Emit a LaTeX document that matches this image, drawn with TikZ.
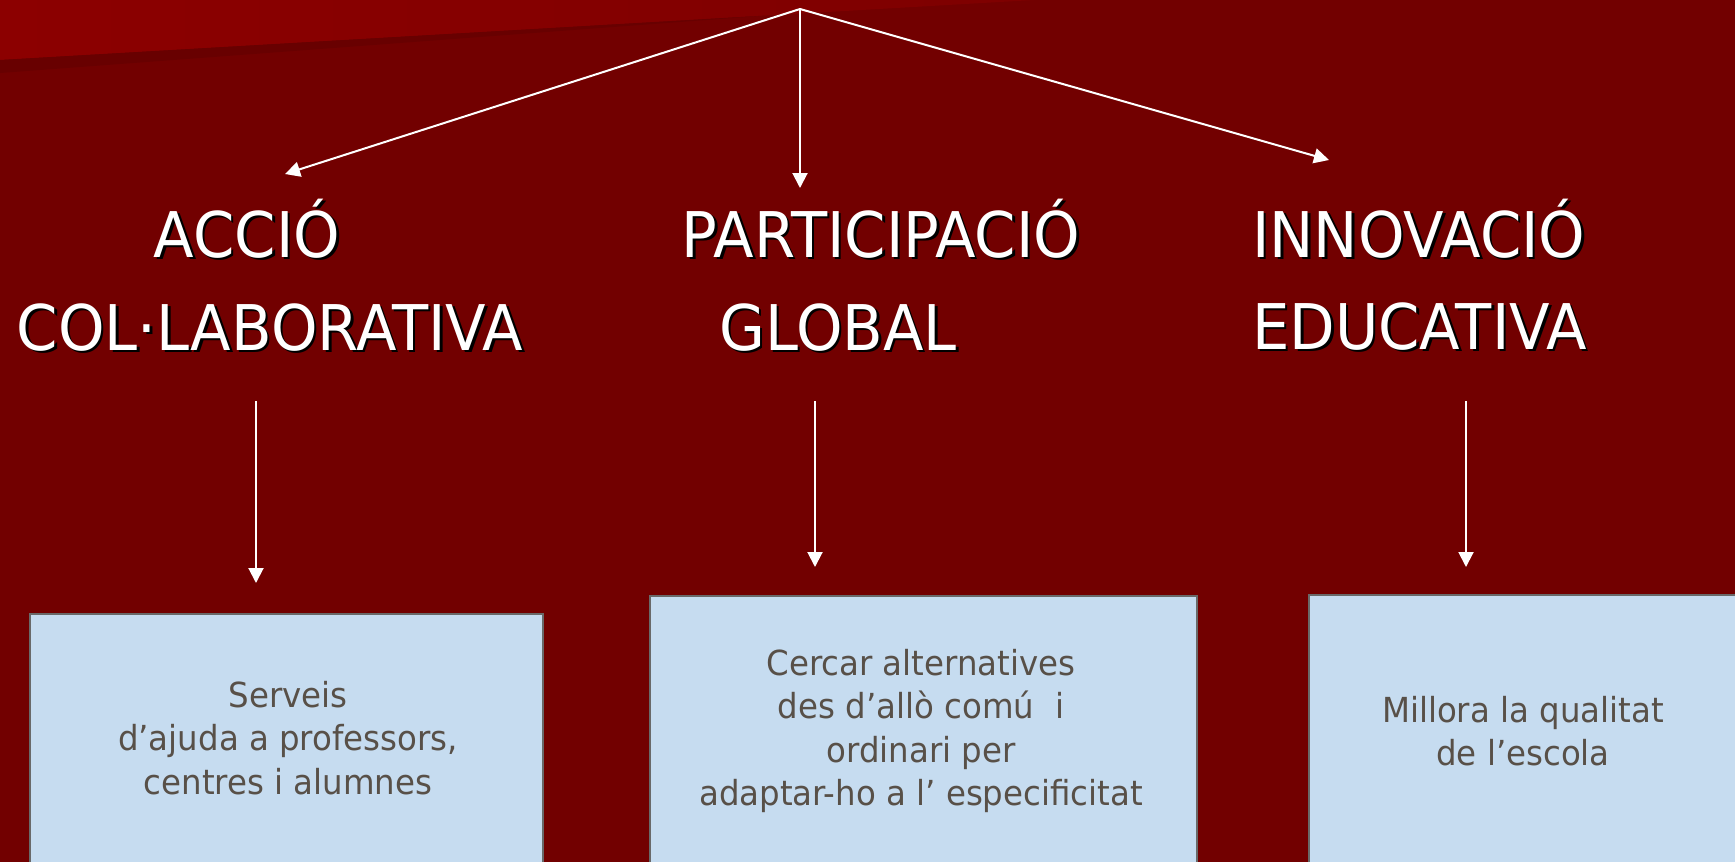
\documentclass[tikz,border=0pt]{standalone}
\usepackage{fontspec}
\setmainfont{DejaVu Sans}[FakeStretch=0.94]
\usetikzlibrary{arrows.meta}
\definecolor{bgred}{RGB}{114,0,0}
\definecolor{hired}{RGB}{140,0,0}
\definecolor{hiredb}{RGB}{126,0,0}
\definecolor{shred}{RGB}{104,0,0}
\definecolor{boxfill}{RGB}{198,220,240}
\definecolor{boxline}{RGB}{105,105,105}
\definecolor{boxtext}{RGB}{88,80,72}
\newcommand\shadowtxt[1]{\rlap{\kern2.5pt\raisebox{-2.5pt}{\textcolor{black}{#1}}}#1}
\begin{document}
\begin{tikzpicture}[x=1pt,y=-1pt,
  title/.style={inner sep=0pt,text=white,font=\fontsize{63}{75}\selectfont},
  conn/.style={draw=white,line width=2pt,-{Triangle[width=15pt,length=15pt]}},
  infobox/.style={draw=boxline,line width=1.5pt,fill=boxfill,inner sep=0pt,anchor=north west},
  infotext/.style={inner sep=0pt,text=boxtext,align=center,font=\fontsize{34.5}{43.5}\selectfont}]
\useasboundingbox (0,0) rectangle (1735,862);
\fill[bgred] (0,0) rectangle (1735,862);
\shade[left color=hired,right color=hiredb] (0,0) -- (1034,0) -- (0,60) -- cycle;
\fill[shred] (0,60) -- (765,15.6) -- (0,73) -- cycle;

% titles
\node[title,anchor=base] (t1a) at (247,257) {\shadowtxt{ACCIÓ}};
\node[title,anchor=base] (t1b) at (270,350) {\shadowtxt{COL·LABORATIVA}};
\node[title,anchor=base] (t2a) at (881,257) {\shadowtxt{PARTICIPACIÓ}};
\node[title,anchor=base] (t2b) at (838,350) {\shadowtxt{GLOBAL}};
\node[title,anchor=base west] (t3a) at (1252,257) {\shadowtxt{INNOVACIÓ}};
\node[title,anchor=base west] (t3b) at (1252,349) {\shadowtxt{EDUCATIVA}};

% boxes
\node[infobox,minimum width=513pt,minimum height=300pt] (b1) at (29,613) {};
\node[infobox,minimum width=547pt,minimum height=300pt] (b2) at (649,595) {};
\node[infobox,minimum width=432pt,minimum height=300pt] (b3) at (1308,594) {};
\node[infotext] (x1) at (288,738) {Serveis\\d’ajuda a professors,\\centres i alumnes};
\node[infotext] (x2) at (921,731) {Cercar alternatives\\des d’allò comú\ \ i\\ordinari per\\adaptar-ho a l’ especificitat};
\node[infotext] (x3) at (1523,731) {Millora la qualitat\\de l’escola};

% connectors
\coordinate (apex) at (800,9);
\coordinate (tipL) at (285,174);
\coordinate (tipM) at (800,188);
\coordinate (tipR) at (1329,160);
\draw[conn] (apex) -- (tipL);
\draw[conn] (apex) -- (tipM);
\draw[conn] (apex) -- (tipR);
\coordinate (d1s) at (256,401);
\coordinate (d1e) at (256,583);
\coordinate (d2s) at (815,401);
\coordinate (d2e) at (815,567);
\coordinate (d3s) at (1466,401);
\coordinate (d3e) at (1466,567);
\draw[conn] (d1s) -- (d1e);
\draw[conn] (d2s) -- (d2e);
\draw[conn] (d3s) -- (d3e);
\end{tikzpicture}
\end{document}
